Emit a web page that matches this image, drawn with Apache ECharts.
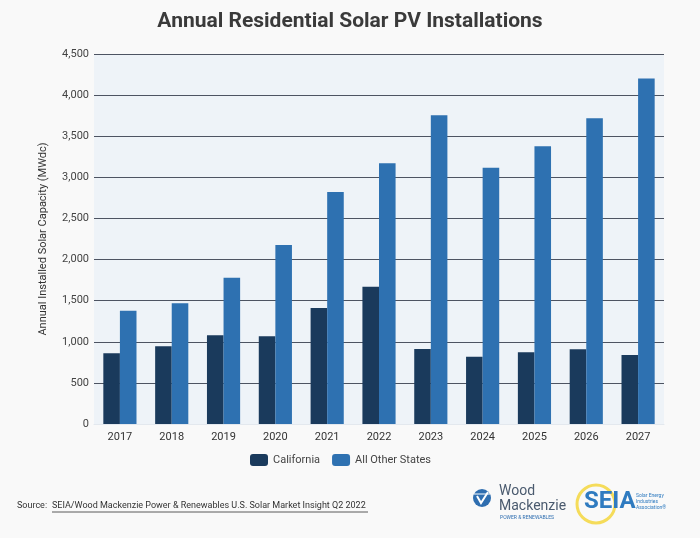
<!DOCTYPE html>
<html>
<head>
<meta charset="utf-8">
<script src="https://cdn.jsdelivr.net/npm/echarts@6/dist/echarts.min.js"></script>
<style>
html,body{margin:0;padding:0;background:#f9f9f9;}
#c{width:700px;height:538px;}
</style>
</head>
<body>
<div id="c"></div>
<script>
const years = ['2017','2018','2019','2020','2021','2022','2023','2024','2025','2026','2027'];
const california = [860, 945, 1080, 1067, 1411, 1670, 912, 819, 872, 908, 839];
const otherStates = [1378, 1468, 1780, 2178, 2822, 3171, 3755, 3118, 3378, 3719, 4201];
const seriesNames = ['California', 'All Other States'];
const yTicks = {min: 0, max: 4500, interval: 500};

const chart = echarts.init(document.getElementById('c'), null, {renderer: 'canvas'});
const font = 'Roboto, "Noto Sans", sans-serif';
chart.setOption({
  backgroundColor: '#f9f9f9',
  animation: false,
  title: {
    text: 'Annual Residential Solar PV Installations',
    left: 'center', top: 6,
    textStyle: {fontFamily: font, fontSize: 21, fontWeight: 'bold', color: '#3a3a3a'}
  },
  legend: {
    data: seriesNames,
    left: 245, top: 449,
    itemWidth: 18, itemHeight: 12, itemGap: 12,
    icon: 'roundRect',
    textStyle: {fontFamily: font, fontSize: 11, color: '#444'}
  },
  grid: {
    left: 94, right: 36, top: 54, bottom: 114,
    show: true, backgroundColor: '#eef3f8', borderWidth: 0
  },
  xAxis: {
    type: 'category', data: years,
    axisLine: {show: true, lineStyle: {color: '#e3e8ee'}},
    axisTick: {show: false},
    axisLabel: {fontFamily: font, fontSize: 11, color: '#333', margin: 8}
  },
  yAxis: {
    type: 'value', min: yTicks.min, max: yTicks.max, interval: yTicks.interval,
    name: 'Annual Installed Solar Capacity (MWdc)',
    nameLocation: 'middle', nameGap: 45,
    nameTextStyle: {fontFamily: font, fontSize: 11, color: '#333'},
    axisLine: {show: false}, axisTick: {show: false},
    axisLabel: {fontFamily: font, fontSize: 11, color: '#444', margin: 5,
      formatter: v => v.toLocaleString('en-US')},
    splitLine: {lineStyle: {color: '#4d5462', width: 1}}
  },
  series: [
    {name: seriesNames[0], type: 'bar', data: california, barGap: '0%', barCategoryGap: '36%',
     itemStyle: {color: '#1a3a5c'}},
    {name: seriesNames[1], type: 'bar', data: otherStates,
     itemStyle: {color: '#2e71b1'}}
  ],
  graphic: [
    {type: 'text', left: 17, top: 501, style: {text: 'Source: ', fontFamily: font, fontSize: 9, fill: '#333'}},
    {type: 'text', left: 52, top: 501, style: {text: 'SEIA/Wood Mackenzie Power & Renewables U.S. Solar Market Insight Q2 2022', fontFamily: font, fontSize: 9, fill: '#333'}},
    {type: 'line', shape: {x1: 52, y1: 512, x2: 368, y2: 512}, style: {stroke: '#333', lineWidth: 0.8}},
    // Wood Mackenzie logo
    {type: 'circle', shape: {cx: 482, cy: 498, r: 9}, style: {fill: '#2f6eb0'}},
    {type: 'polyline', shape: {points: [[477,496],[481,503],[488,492]]}, style: {stroke: '#fff', lineWidth: 2, fill: null}},
    {type: 'line', shape: {x1: 474, y1: 494, x2: 490, y2: 494}, style: {stroke: '#fff', lineWidth: 1}},
    {type: 'text', left: 499, top: 484, style: {text: 'Wood', fontFamily: font, fontSize: 14, fill: '#4a5a6e'}},
    {type: 'text', left: 499, top: 499, style: {text: 'Mackenzie', fontFamily: font, fontSize: 14, fill: '#4a5a6e'}},
    {type: 'text', left: 500, top: 515, style: {text: 'POWER & RENEWABLES', fontFamily: font, fontSize: 5, fill: '#2f6eb0'}},
    // SEIA logo
    {type: 'circle', shape: {cx: 596, cy: 504, r: 19}, style: {fill: 'none', stroke: '#f5dc5a', lineWidth: 3}},
    {type: 'text', left: 584, top: 490, style: {text: 'SEIA', fontFamily: font, fontSize: 24, fontWeight: 'bold', fill: '#2f7bc0'}},
    {type: 'text', left: 636, top: 493, style: {text: 'Solar Energy\nIndustries\nAssociation®', fontFamily: font, fontSize: 5, lineHeight: 6, fill: '#2f7bc0'}}
  ]
});
</script>
</body>
</html>
